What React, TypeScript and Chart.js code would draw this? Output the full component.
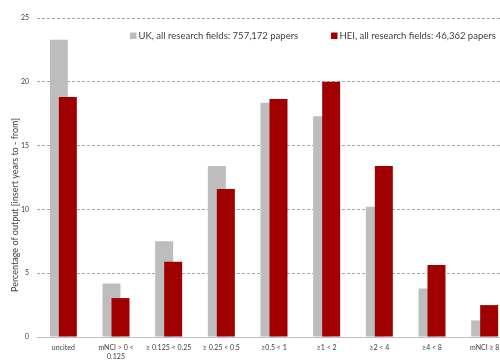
import React, { useEffect, useRef } from "react";
import { Chart, registerables } from "chart.js";

Chart.register(...registerables);

const categories: (string | string[])[] = [
  "uncited",
  ["mNCI > 0 <", "0.125"],
  "≥ 0.125 < 0.25",
  "≥ 0.25 < 0.5",
  "≥0.5 < 1",
  "≥1 < 2",
  "≥2 < 4",
  "≥4 < 8",
  "mNCI ≥ 8",
];
const ukValues = [23.3, 4.2, 7.5, 13.4, 18.35, 17.3, 10.2, 3.8, 1.3];
const heiValues = [18.8, 3.05, 5.9, 11.6, 18.65, 20.0, 13.4, 5.65, 2.5];
const seriesNames = [
  "UK, all research fields: 757,172 papers",
  "HEI, all research fields: 46,362 papers",
];
const yTitle = "Percentage of output [insert years to - from]";

const GREY = "#BDBDBD";
const RED = "#A00000";
const FONT = "Lato, 'Open Sans', sans-serif";

export default function App() {
  const ref = useRef<HTMLCanvasElement | null>(null);
  useEffect(() => {
    const canvas = ref.current;
    if (!canvas) return;
    let late = false;
    const redOnTop = {
      id: "redOnTop",
      beforeDatasetDraw(chart: any, args: any) {
        if (args.index === 1 && !late) return false;
      },
      afterDatasetsDraw(chart: any) {
        late = true;
        chart.getDatasetMeta(1).controller.draw();
        late = false;
      },
    };
    const extras = {
      id: "extras",
      afterDraw(chart: any) {
        const ctx = chart.ctx;
        ctx.save();
        // legend
        ctx.font = `9.5px ${FONT}`;
        ctx.textBaseline = "middle";
        ctx.textAlign = "left";
        const items = [
          { x: 130, color: GREY, text: seriesNames[0] },
          { x: 331, color: RED, text: seriesNames[1] },
        ];
        for (const it of items) {
          ctx.fillStyle = it.color;
          ctx.fillRect(it.x, 32.5, 6.5, 6.5);
          ctx.fillStyle = "#404040";
          ctx.fillText(it.text, it.x + 8.5, 36);
        }
        // y title
        ctx.translate(15, 205);
        ctx.rotate(-Math.PI / 2);
        ctx.textAlign = "center";
        ctx.font = `9px ${FONT}`;
        ctx.fillStyle = "#404040";
        ctx.fillText(yTitle, 0, 0);
        ctx.restore();
      },
    };
    const chart = new Chart(canvas, {
      type: "bar",
      data: {
        labels: categories,
        datasets: [
          {
            label: seriesNames[0],
            data: ukValues,
            backgroundColor: GREY,
            categoryPercentage: 0.3416,
            barPercentage: 2,
          },
          {
            label: seriesNames[1],
            data: heiValues,
            backgroundColor: RED,
            categoryPercentage: 0.3416,
            barPercentage: 2,
          },
        ],
      },
      options: {
        animation: false,
        responsive: false,
        layout: { padding: { top: 18, right: 1, left: 0, bottom: 0 } },
        plugins: {
          legend: { display: false },
          tooltip: { enabled: false },
        },
        scales: {
          x: {
            grid: { display: false, drawTicks: false },
            border: { display: false },
            ticks: {
              color: "#404040",
              font: { family: FONT, size: 7, lineHeight: 1.35 },
              padding: 6,
              maxRotation: 0,
              autoSkip: false,
            },
            afterFit: (s: any) => {
              s.height = 23;
            },
          },
          y: {
            min: 0,
            max: 25,
            ticks: {
              stepSize: 5,
              color: "#404040",
              font: { family: FONT, size: 7 },
              padding: 8,
            },
            grid: {
              drawTicks: false,
              color: (c: any) => (c.tick && c.tick.value === 0 ? "#BFBFBF" : "#A6A6A6"),
              lineWidth: 1,
            },
            border: {
              display: false,
              dash: (c: any) => (c.tick && c.tick.value === 0 ? [] : [3, 2]),
            },
            afterFit: (s: any) => {
              s.width = 37;
            },
          },
        },
      },
      plugins: [redOnTop, extras],
    } as any);
    return () => chart.destroy();
  }, []);
  return (
    <div
      style={{
        position: "fixed",
        left: 0,
        top: 0,
        width: 500,
        height: 360,
        overflow: "hidden",
        background: "#fff",
      }}
    >
      <canvas ref={ref} width={512} height={360} style={{ display: "block" }} />
    </div>
  );
}
